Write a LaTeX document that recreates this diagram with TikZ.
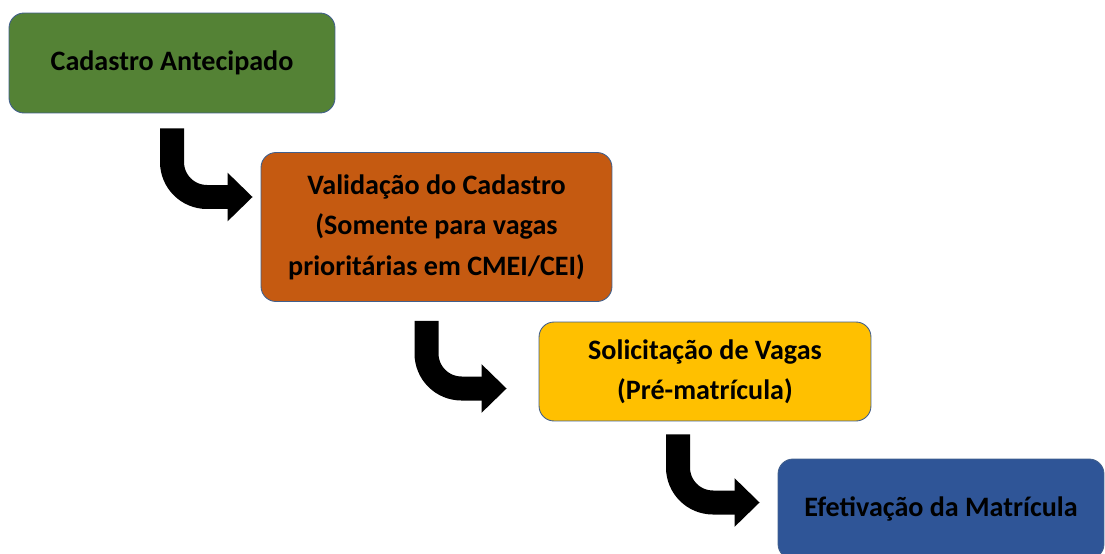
\documentclass[tikz,border=0pt]{standalone}
\usepackage{fontspec}
\setmainfont{Carlito}
\usetikzlibrary{arrows.meta, calc}

\definecolor{cadgreen}{RGB}{84,130,53}
\definecolor{valorange}{RGB}{197,90,17}
\definecolor{solyellow}{RGB}{255,192,0}
\definecolor{efetblue}{RGB}{47,85,151}
\definecolor{edgeblue}{RGB}{65,95,140}

\begin{document}
\begin{tikzpicture}[
x=0.02cm, y=-0.02cm,
box/.style={draw=edgeblue, line width=0.5pt, rounded corners=0.3cm, align=center,
  inner sep=0pt, font=\fontsize{16}{23}\selectfont\bfseries},
bent/.style={line width=0.48cm, rounded corners=0.7cm,
  -{Triangle[length=0.5cm, width=0.94cm]}}
]
\useasboundingbox (0,0) rectangle (1105,554);

\node (cad) [box, fill=cadgreen, minimum width=6.52cm, minimum height=2cm] at (172,63) {Cadastro Antecipado};
\node (val) [box, fill=valorange, minimum width=7.02cm, minimum height=2.98cm] at (436.5,227) {Validação do Cadastro\\(Somente para vagas\\prioritárias em CMEI/CEI)};
\node (sol) [box, fill=solyellow, minimum width=6.64cm, minimum height=1.98cm] at (705,371.5) {Solicitação de Vagas\\(Pré-matrícula)};
\node (efe) [box, fill=efetblue, minimum width=6.52cm, minimum height=2cm] at (941,509) {Efetivação da Matrícula};

\coordinate (a1s) at ($(cad.south)+(0,15)$);
\coordinate (a1e) at ($(val.west)+(-8,-30)$);
\coordinate (a2s) at ($(val.south)+(-10,19)$);
\coordinate (a2e) at ($(sol.west)+(-32,17)$);
\coordinate (a3s) at ($(sol.south)+(-27,13)$);
\coordinate (a3e) at ($(efe.west)+(-18,-6.5)$);

\draw[bent] (a1s) |- (a1e);
\draw[bent] (a2s) |- (a2e);
\draw[bent] (a3s) |- (a3e);

\end{tikzpicture}
\end{document}
